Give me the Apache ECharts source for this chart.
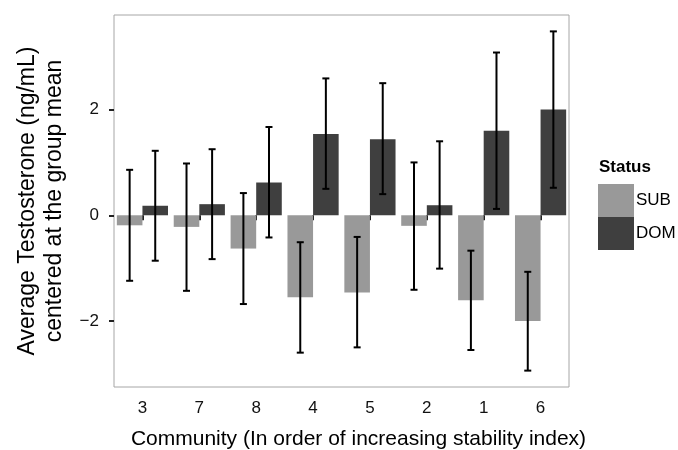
<!DOCTYPE html>
<html>
<head>
<meta charset="utf-8">
<script src="https://cdn.jsdelivr.net/npm/echarts@6/dist/echarts.min.js"></script>
<style>
  html, body { margin: 0; padding: 0; background: #fff; }
  #chart { width: 678px; height: 450px; }
</style>
</head>
<body>
<div id="chart"></div>
<script>
// communities, ordered by increasing stability index
const communities = ['3', '7', '8', '4', '5', '2', '1', '6'];

// mean testosterone centered at the group mean
const subMean = [-0.19, -0.22, -0.63, -1.55, -1.46, -0.20, -1.61, -2.00];
const domMean = [0.18, 0.21, 0.62, 1.54, 1.44, 0.19, 1.60, 2.00];

// error bar ends
const subLow = [-1.24, -1.43, -1.68, -2.60, -2.50, -1.41, -2.55, -2.94];
const subHigh = [0.86, 0.98, 0.42, -0.51, -0.41, 1.00, -0.67, -1.07];
const domLow = [-0.86, -0.83, -0.42, 0.50, 0.40, -1.01, 0.12, 0.52];
const domHigh = [1.22, 1.25, 1.67, 2.59, 2.50, 1.40, 3.08, 3.48];

const yTicks = [-2, 0, 2];

const chart = echarts.init(document.getElementById('chart'));

// error bars drawn with custom series, dodged like the bars
function errorBars(low, high, side) {
  return {
    type: 'custom',
    silent: true,
    z: 10,
    data: low.map((lo, i) => [i, lo, high[i]]),
    encode: { x: 0, y: [1, 2] },
    renderItem: (params, api) => {
      const band = api.size([1, 0])[0];
      const dx = side * band * 0.225;
      const top = api.coord([api.value(0), api.value(2)]);
      const bot = api.coord([api.value(0), api.value(1)]);
      const x = top[0] + dx;
      const cap = 3.5;
      const style = { stroke: '#000', lineWidth: 2 };
      return {
        type: 'group',
        children: [
          { type: 'line', shape: { x1: x, y1: top[1], x2: x, y2: bot[1] }, style },
          { type: 'line', shape: { x1: x - cap, y1: top[1], x2: x + cap, y2: top[1] }, style },
          { type: 'line', shape: { x1: x - cap, y1: bot[1], x2: x + cap, y2: bot[1] }, style }
        ]
      };
    }
  };
}

const option = {
  backgroundColor: '#fff',
  animation: false,
  textStyle: { fontFamily: 'Liberation Sans, Arial, sans-serif' },
  grid: {
    left: 114, top: 15, right: 109, bottom: 63,
    outerBoundsMode: 'none',
    containLabel: false,
    show: true, borderColor: '#a6a6a6', borderWidth: 1
  },
  title: {
    text: 'Status',
    left: 594, top: 154,
    textStyle: { fontSize: 17, fontWeight: 'bold', color: '#000' }
  },
  legend: {
    orient: 'vertical',
    left: 593, top: 179,
    itemWidth: 36, itemHeight: 33, itemGap: 0,
    icon: 'rect',
    data: ['SUB', 'DOM'],
    textStyle: { fontSize: 17, color: '#000', padding: [0, 0, 0, -3] }
  },
  xAxis: {
    type: 'category',
    data: communities,
    name: 'Community (In order of increasing stability index)',
    nameLocation: 'middle',
    nameGap: 42,
    nameTextStyle: { fontSize: 21, color: '#000', padding: [0, 0, 0, 34] },
    axisLine: { show: false },
    axisTick: { show: true, alignWithLabel: true, length: 5, lineStyle: { color: '#222', width: 2 } },
    axisLabel: { fontSize: 17, color: '#111', margin: 13 }
  },
  yAxis: {
    type: 'value',
    min: -3.25, max: 3.79,
    name: 'Average Testosterone (ng/mL)\ncentered at the group mean',
    nameLocation: 'middle',
    nameGap: 46,
    nameTextStyle: { fontSize: 23, color: '#000', lineHeight: 27 },
    splitLine: { show: false },
    axisLine: { show: false },
    axisTick: { show: true, length: 5, customValues: yTicks, lineStyle: { color: '#222', width: 2 } },
    axisLabel: {
      fontSize: 17, color: '#111', margin: 15,
      customValues: yTicks,
      formatter: v => String(v).replace('-', '\u2212')
    }
  },
  series: [
    {
      name: 'SUB', type: 'bar', data: subMean,
      barGap: '0%', barCategoryGap: '10%',
      itemStyle: { color: '#999999' }
    },
    {
      name: 'DOM', type: 'bar', data: domMean,
      barGap: '0%', barCategoryGap: '10%',
      itemStyle: { color: '#3f3f3f' }
    },
    errorBars(subLow, subHigh, -1),
    errorBars(domLow, domHigh, 1)
  ]
};

chart.setOption(option);
</script>
</body>
</html>
